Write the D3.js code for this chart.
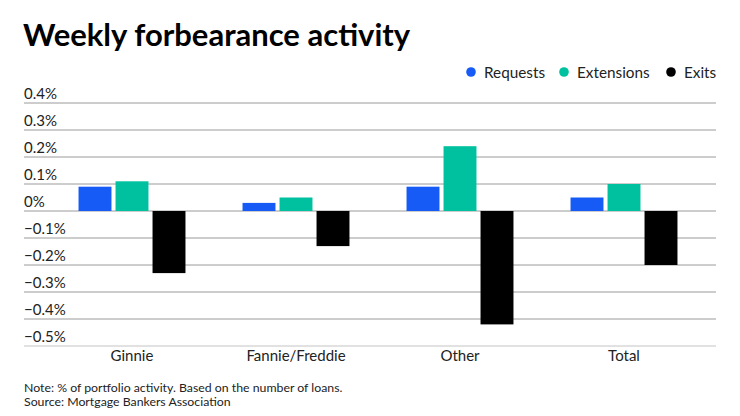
<!DOCTYPE html>
<html>
<head>
<meta charset="utf-8">
<script src="https://cdn.jsdelivr.net/npm/d3@7"></script>
<style>
  body { margin: 0; background: #fff; }
  text { font-family: Lato, "Open Sans", sans-serif; }
</style>
</head>
<body>
<script>
var w = 740;
var h = 416;

// data (% of portfolio)
var categories = ["Ginnie", "Fannie/Freddie", "Other", "Total"];
var seriesNames = ["Requests", "Extensions", "Exits"];
var requests = [0.09, 0.03, 0.09, 0.05];
var extensions = [0.11, 0.05, 0.24, 0.10];
var exits = [-0.23, -0.13, -0.42, -0.20];
var ticks = [0.4, 0.3, 0.2, 0.1, 0, -0.1, -0.2, -0.3, -0.4, -0.5];
var colors = ["#165bf5", "#00c19f", "#000000"];

var series = [requests, extensions, exits];

var svg = d3.select("body")
            .append("svg")
            .attr("width", w)
            .attr("height", h);

// title
svg.append("text")
   .attr("x", 23)
   .attr("y", 46)
   .attr("font-size", "31px")
   .attr("font-weight", "bold")
   .attr("fill", "#000")
   .text("Weekly forbearance activity");

var y = d3.scaleLinear().domain([-0.5, 0.4]).range([346, 103]);
var x0 = d3.scaleBand().domain(categories).range([50, 706])
           .paddingInner(0.348).paddingOuter(0.174);
var x1 = d3.scaleBand().domain(seriesNames).range([0, x0.bandwidth()])
           .paddingInner(0.11);

// gridlines + labels
var grid = svg.append("g");
grid.selectAll("line")
   .data(ticks)
   .enter()
   .append("line")
   .attr("x1", 24)
   .attr("x2", 716)
   .attr("y1", d => y(d))
   .attr("y2", d => y(d))
   .attr("stroke", d => d == -0.5 ? "#c4c4c4" : "#9a9a9a")
   .attr("stroke-width", 1);

grid.selectAll("text")
   .data(ticks)
   .enter()
   .append("text")
   .attr("x", 24)
   .attr("y", d => y(d) - 4)
   .attr("font-size", "15px")
   .attr("fill", "#222")
   .text(d => (d == 0 ? "0" : d3.format(".1f")(d)) + "%");

// bars
var groups = svg.selectAll("g.cat")
   .data(categories)
   .enter()
   .append("g")
   .attr("class", "cat")
   .attr("transform", d => "translate(" + x0(d) + ",0)");

groups.selectAll("rect")
   .data((d, i) => seriesNames.map((s, j) => ({ s: s, v: series[j][i], c: colors[j] })))
   .enter()
   .append("rect")
   .attr("x", d => x1(d.s))
   .attr("y", d => y(Math.max(0, d.v)))
   .attr("width", x1.bandwidth())
   .attr("height", d => Math.abs(y(d.v) - y(0)))
   .attr("fill", d => d.c);

// category labels
svg.selectAll("text.cat")
   .data(categories)
   .enter()
   .append("text")
   .attr("class", "cat")
   .attr("x", d => x0(d) + x0.bandwidth() / 2)
   .attr("y", 361)
   .attr("text-anchor", "middle")
   .attr("font-size", "15px")
   .attr("fill", "#222")
   .text(d => d);

// legend
var legX = [471, 564, 671];
var leg = svg.selectAll("g.leg")
   .data(seriesNames)
   .enter()
   .append("g")
   .attr("class", "leg")
   .attr("transform", (d, i) => "translate(" + legX[i] + ",72)");
leg.append("circle")
   .attr("r", 4.8)
   .attr("fill", (d, i) => colors[i]);
leg.append("text")
   .attr("x", 13)
   .attr("y", 5.5)
   .attr("font-size", "15.3px")
   .attr("fill", "#222")
   .text(d => d);

// notes
svg.append("text")
   .attr("x", 24).attr("y", 392)
   .attr("font-size", "12.3px").attr("fill", "#222")
   .text("Note: % of portfolio activity. Based on the number of loans.");
svg.append("text")
   .attr("x", 24).attr("y", 406)
   .attr("font-size", "12.3px").attr("fill", "#222")
   .text("Source: Mortgage Bankers Association");
</script>
</body>
</html>
